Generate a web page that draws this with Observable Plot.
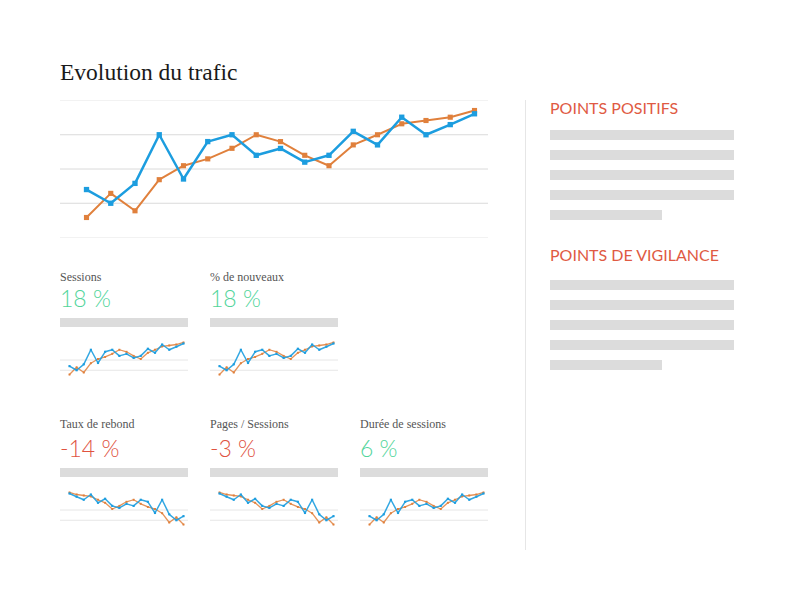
<!DOCTYPE html>
<html>
<head>
<meta charset="utf-8">
<script src="https://cdn.jsdelivr.net/npm/d3@7"></script>
<script src="https://cdn.jsdelivr.net/npm/@observablehq/plot@0.6"></script>
<style>
  html, body { margin: 0; padding: 0; background: #ffffff; }
  body { width: 800px; height: 600px; position: relative; overflow: hidden; font-family: "Liberation Serif", serif; }
  .abs { position: absolute; }
  .title { left: 60px; top: 59px; font-family: "Liberation Serif", serif; font-size: 23.5px; color: #1a1a1a; white-space: nowrap; }
  .label { font-family: "Liberation Serif", serif; font-size: 12px; color: #555; white-space: nowrap; }
  .num { font-family: "Lato", "Open Sans", sans-serif; font-weight: 300; font-size: 23px; white-space: nowrap; }
  .bar { background: #dcdcdc; height: 9px; }
  .head { font-family: "Lato", "Open Sans", sans-serif; font-size: 16px; color: #e05a43; white-space: nowrap; }
  .divider { left: 525px; top: 100px; width: 1px; height: 450px; background: #e6e6e6; }
  svg { overflow: visible; }
</style>
</head>
<body>
<div id="root"></div>
<script>
// ---- data ----
const periods = [1, 2, 3, 4, 5, 6, 7, 8, 9, 10, 11, 12, 13, 14, 15, 16, 17];
const seriesNames = ["Période actuelle", "Période précédente"];
const trafficBlue = [35, 25, 39.5, 75, 42.7, 70, 75, 60, 65, 55, 60, 77.5, 67.6, 87.8, 75, 82.4, 90.3];
const trafficOrange = [14.6, 32.2, 19.5, 42.2, 52.4, 57.4, 65.1, 75, 70, 60, 52.4, 67.6, 75, 83, 85.4, 87.8, 92.7];
const fallingBlue = [90.3, 82.4, 75, 87.8, 67.6, 77.5, 60, 55, 65, 60, 75, 70, 42.7, 75, 39.5, 25, 35];
const fallingOrange = [92.7, 87.8, 85.4, 83, 75, 67.6, 52.4, 60, 70, 75, 65.1, 57.4, 52.4, 42.2, 19.5, 32.2, 14.6];
const gridValues = [0, 25, 50, 75, 100];
const metricLabels = ["Sessions", "% de nouveaux", "Taux de rebond", "Pages / Sessions", "Durée de sessions"];
const metricValues = ["18 %", "18 %", "-14 %", "-3 %", "6 %"];
const metricTrend = ["up", "up", "down", "down", "up"];
const sectionTitles = ["POINTS POSITIFS", "POINTS DE VIGILANCE"];
const colors = ["#1c9ddf", "#e0803c"];

const root = document.getElementById("root");

function mk(cls, style, text) {
  const d = document.createElement("div");
  d.className = "abs " + cls;
  Object.assign(d.style, style);
  if (text != null) d.textContent = text;
  root.appendChild(d);
  return d;
}

function toRows(blue, orange) {
  return [
    ...blue.map((v, i) => ({ x: periods[i], y: v, s: seriesNames[0] })),
    ...orange.map((v, i) => ({ x: periods[i], y: v, s: seriesNames[1] }))
  ];
}

// ---- title ----
mk("title", {}, "Evolution du trafic");

// ---- main chart ----
{
  const data = toRows(trafficBlue, trafficOrange);
  const chart = Plot.plot({
    width: 430, height: 147,
    marginTop: 5, marginBottom: 5, marginLeft: 0, marginRight: 2,
    style: { background: "transparent" },
    x: { domain: [1, 17], insetLeft: 26, insetRight: 14, axis: null },
    y: { domain: [0, 100], axis: null },
    marks: [
      Plot.ruleY(gridValues, { stroke: d => (d === 0 || d === 100) ? "#f2f2f2" : "#dadada", strokeWidth: 1 }),
      Plot.line(data.filter(d => d.s === seriesNames[1]), { x: "x", y: "y", stroke: colors[1], strokeWidth: 2 }),
      Plot.dot(data.filter(d => d.s === seriesNames[1]), { x: "x", y: "y", fill: colors[1], symbol: "square", r: 2.9 }),
      Plot.line(data.filter(d => d.s === seriesNames[0]), { x: "x", y: "y", stroke: colors[0], strokeWidth: 2.5 }),
      Plot.dot(data.filter(d => d.s === seriesNames[0]), { x: "x", y: "y", fill: colors[0], symbol: "square", r: 3 })
    ]
  });
  const wrap = mk("", { left: "60px", top: "95px" });
  wrap.appendChild(chart);
}

// ---- metric cards ----
function spark(blue, orange) {
  const data = toRows(blue, orange);
  return Plot.plot({
    width: 128, height: 46,
    marginTop: 3, marginBottom: 2, marginLeft: 0, marginRight: 0,
    style: { background: "transparent" },
    x: { domain: [1, 17], insetLeft: 9, insetRight: 5, axis: null },
    y: { domain: [0, 100], axis: null },
    marks: [
      Plot.ruleY([25, 50], { stroke: "#e6e6e6", strokeWidth: 1 }),
      Plot.line(data.filter(d => d.s === seriesNames[1]), { x: "x", y: "y", stroke: colors[1], strokeWidth: 1.3, strokeOpacity: 0.85 }),
      Plot.dot(data.filter(d => d.s === seriesNames[1]), { x: "x", y: "y", fill: colors[1], symbol: "square", r: 1.1 }),
      Plot.line(data.filter(d => d.s === seriesNames[0]), { x: "x", y: "y", stroke: colors[0], strokeWidth: 1.5, strokeOpacity: 0.9 }),
      Plot.dot(data.filter(d => d.s === seriesNames[0]), { x: "x", y: "y", fill: colors[0], symbol: "square", r: 1.2 })
    ]
  });
}

const cardPos = [[60, 0], [210, 0], [60, 1], [210, 1], [360, 1]];
const sparkData = [
  [trafficBlue, trafficOrange],
  [trafficBlue, trafficOrange],
  [fallingBlue, fallingOrange],
  [fallingBlue, fallingOrange],
  [trafficBlue, trafficOrange]
];
metricLabels.forEach((lab, i) => {
  const [x, row] = cardPos[i];
  const dy = row * 150;
  mk("label", { left: x + "px", top: (270 + row * 147) + "px" }, lab);
  mk("num", { left: x + "px", top: (284 + dy) + "px", color: metricTrend[i] === "up" ? "#52d59b" : "#e0533f" }, metricValues[i]);
  mk("bar", { left: x + "px", top: (318 + dy) + "px", width: "128px" });
  const w = mk("", { left: x + "px", top: (336 + dy) + "px" });
  w.appendChild(spark(sparkData[i][0], sparkData[i][1]));
});

// ---- divider & side column ----
mk("divider", {});
const headTops = [98, 245];
const barTops = [130, 280];
sectionTitles.forEach((t, k) => {
  mk("head", { left: "550px", top: headTops[k] + "px" }, t);
  for (let j = 0; j < 5; j++) {
    mk("bar", { left: "550px", top: (barTops[k] + j * 20) + "px", width: (j === 4 ? 112 : 184) + "px", height: "10px" });
  }
});
</script>
</body>
</html>
